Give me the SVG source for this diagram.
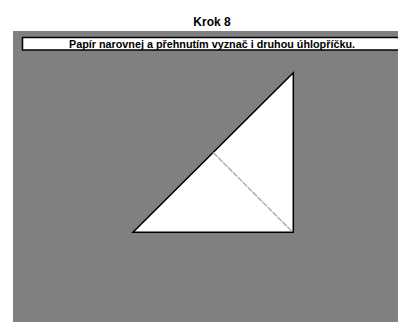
<svg xmlns="http://www.w3.org/2000/svg" width="398" height="322" viewBox="0 0 398 322">
<style>
.t{font-family:"Liberation Sans",Arial,sans-serif;font-weight:bold;fill:#000}
</style>
<rect x="0" y="0" width="398" height="322" fill="#fff"/>
<rect x="13" y="31" width="385" height="291" fill="#808080"/>
<g id="title"><text class="t" x="212" y="26" font-size="12" text-anchor="middle">Krok 8</text></g>
<g id="instruction">
<rect x="22.5" y="37.5" width="380" height="12.5" fill="#fff" stroke="#000" stroke-width="1.5"/>
<text class="t" x="69" y="47.5" font-size="10" textLength="286" lengthAdjust="spacingAndGlyphs">Papír narovnej a přehnutím vyznač i druhou úhlopříčku.</text>
</g>
<g id="paper">
<polygon points="293.3,72.7 133,232.3 293.3,232.3" fill="#fff" stroke="#000" stroke-width="1.5" stroke-linejoin="miter"/>
</g>
<g id="connectors">
<line x1="213.2" y1="152.5" x2="292" y2="231.5" stroke="#b0b0b0" stroke-width="1.5" stroke-dasharray="6,1"/>
</g>
</svg>
